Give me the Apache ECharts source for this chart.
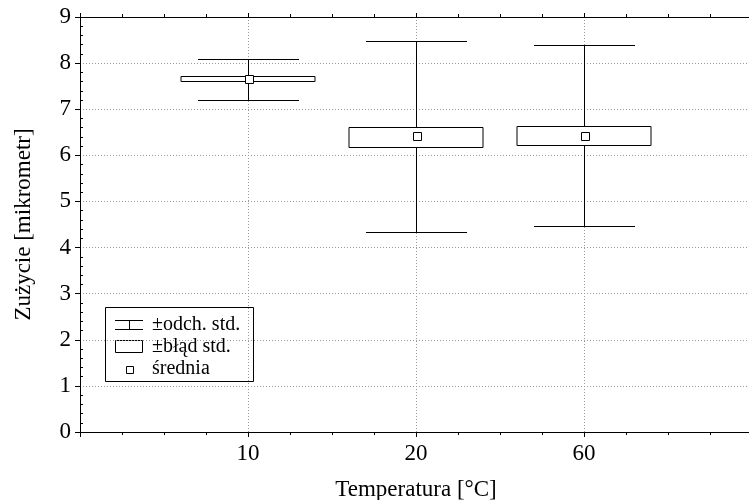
<!DOCTYPE html>
<html>
<head>
<meta charset="utf-8">
<script src="https://cdn.jsdelivr.net/npm/echarts@6/dist/echarts.min.js"></script>
<style>html,body{margin:0;padding:0;background:#fff}#c{width:749px;height:500px}</style>
</head>
<body>
<div id="c"></div>
<script>
const categories = ['10', '20', '60'];
const meanVals = [7.65, 6.41, 6.42];
const seLow = [7.61, 6.19, 6.22];
const seHigh = [7.72, 6.62, 6.64];
const sdLow = [7.19, 4.34, 4.47];
const sdHigh = [8.10, 8.47, 8.40];
const yTicks = [0, 1, 2, 3, 4, 5, 6, 7, 8, 9];
const legendLabels = ['±odch. std.', '±błąd std.', 'średnia'];

const FONT = 'Liberation Serif';
const data = categories.map((c, i) => [i + 1, sdLow[i], sdHigh[i], seLow[i], seHigh[i], meanVals[i]]);

const chart = echarts.init(document.getElementById('c'), null, {renderer: 'canvas'});
const dotted = {show: true, lineStyle: {color: '#9a9a9a', type: [1, 2], width: 1}};

function crisp(v) { return Math.round(v) + 0.5; }

const option = {
  animation: false,
  backgroundColor: '#fff',
  grid: {left: 80, top: 17, width: 672, height: 415, containLabel: false, outerBoundsMode: 'none'},
  xAxis: [{
    type: 'value', min: 0, max: 4, interval: 1,
    name: 'Temperatura [°C]', nameLocation: 'middle', nameGap: 46,
    nameTextStyle: {fontFamily: FONT, fontSize: 23, color: '#000'},
    axisLine: {show: true, onZero: false, lineStyle: {color: '#000', width: 1}},
    axisTick: {show: true, length: 5, lineStyle: {color: '#000'}},
    minorTick: {show: true, splitNumber: 4, length: 3, lineStyle: {color: '#000'}},
    axisLabel: {fontFamily: FONT, fontSize: 23, color: '#000', margin: 10,
      formatter: v => categories[v - 1] || ''},
    splitLine: dotted
  }, {
    type: 'value', min: 0, max: 4, interval: 1, position: 'top',
    axisLine: {show: true, onZero: false, lineStyle: {color: '#000', width: 1}},
    axisTick: {show: true, length: 4, lineStyle: {color: '#000'}},
    minorTick: {show: true, splitNumber: 4, length: 3, lineStyle: {color: '#000'}},
    axisLabel: {show: false},
    splitLine: {show: false}
  }],
  yAxis: [{
    type: 'value', min: 0, max: 9, interval: 1,
    name: 'Zużycie [mikrometr]', nameLocation: 'middle', nameGap: 45,
    nameTextStyle: {fontFamily: FONT, fontSize: 23, color: '#000'},
    axisLine: {show: true, onZero: false, lineStyle: {color: '#000', width: 1}},
    axisTick: {show: true, length: 5, lineStyle: {color: '#000'}},
    minorTick: {show: false},
    axisLabel: {fontFamily: FONT, fontSize: 23, color: '#000', margin: 9,
      formatter: v => yTicks.includes(v) ? String(v) : ''},
    splitLine: dotted
  }, {
    type: 'value', min: 0, max: 9, interval: 1, position: 'left', offset: 0,
    axisLine: {show: false, onZero: false},
    axisTick: {show: false, inside: true},
    minorTick: {show: true, splitNumber: 5, length: 3, lineStyle: {color: '#000'}},
    axisLabel: {show: false},
    splitLine: {show: false}
  }],
  series: [{
    type: 'custom',
    data: data,
    encode: {x: 0, y: [1, 2, 3, 4, 5]},
    z: 10,
    renderItem: function (params, api) {
      const x = api.value(0);
      const pSdHi = api.coord([x, api.value(2)]);
      const pSdLo = api.coord([x, api.value(1)]);
      const pSeHi = api.coord([x, api.value(4)]);
      const pSeLo = api.coord([x, api.value(3)]);
      const pM = api.coord([x, api.value(5)]);
      const boxHalf = api.size([0.4, 0])[0];
      const capHalf = api.size([0.3, 0])[0];
      const cx = crisp(pSdHi[0]);
      const ls = {stroke: '#000', lineWidth: 1};
      const yTop = crisp(pSdHi[1]), yBot = crisp(pSdLo[1]);
      const bT = crisp(pSeHi[1]), bB = crisp(pSeLo[1]);
      const m = Math.round(pM[1]);
      return {
        type: 'group',
        children: [
          {type: 'line', shape: {x1: cx, y1: yTop, x2: cx, y2: yBot}, style: ls},
          {type: 'line', shape: {x1: Math.round(cx - capHalf), y1: yTop, x2: Math.round(cx + capHalf), y2: yTop}, style: ls},
          {type: 'line', shape: {x1: Math.round(cx - capHalf), y1: yBot, x2: Math.round(cx + capHalf), y2: yBot}, style: ls},
          {type: 'rect', shape: {x: Math.round(cx - boxHalf), y: bT, width: Math.round(2 * boxHalf), height: bB - bT},
            style: {fill: '#fff', stroke: '#000', lineWidth: 1}},
          {type: 'rect', shape: {x: Math.round(cx) - 4 + 0.5, y: m - 4 + 0.5, width: 8, height: 8},
            style: {fill: '#fff', stroke: '#000', lineWidth: 1}}
        ]
      };
    }
  }],
  graphic: [{
    type: 'group', z: 100,
    children: [
      {type: 'rect', shape: {x: 105.5, y: 307.5, width: 148, height: 74}, style: {fill: '#fff', stroke: '#000', lineWidth: 1}},
      {type: 'line', shape: {x1: 115, y1: 320.5, x2: 143, y2: 320.5}, style: {stroke: '#000', lineWidth: 1}},
      {type: 'line', shape: {x1: 115, y1: 329.5, x2: 143, y2: 329.5}, style: {stroke: '#000', lineWidth: 1}},
      {type: 'line', shape: {x1: 129.5, y1: 320.5, x2: 129.5, y2: 329.5}, style: {stroke: '#000', lineWidth: 1}},
      {type: 'rect', shape: {x: 115.5, y: 340.5, width: 27, height: 12}, style: {fill: '#fff', stroke: '#000', lineWidth: 1}},
      {type: 'rect', shape: {x: 126.5, y: 366.5, width: 7, height: 7}, style: {fill: '#fff', stroke: '#000', lineWidth: 1}},
      {type: 'text', x: 152, y: 325, style: {text: legendLabels[0], font: '20px "Liberation Serif"', fill: '#000', verticalAlign: 'middle'}},
      {type: 'text', x: 152, y: 347, style: {text: legendLabels[1], font: '20px "Liberation Serif"', fill: '#000', verticalAlign: 'middle'}},
      {type: 'text', x: 152, y: 369, style: {text: legendLabels[2], font: '20px "Liberation Serif"', fill: '#000', verticalAlign: 'middle'}}
    ]
  }]
};
chart.setOption(option);
</script>
</body>
</html>
